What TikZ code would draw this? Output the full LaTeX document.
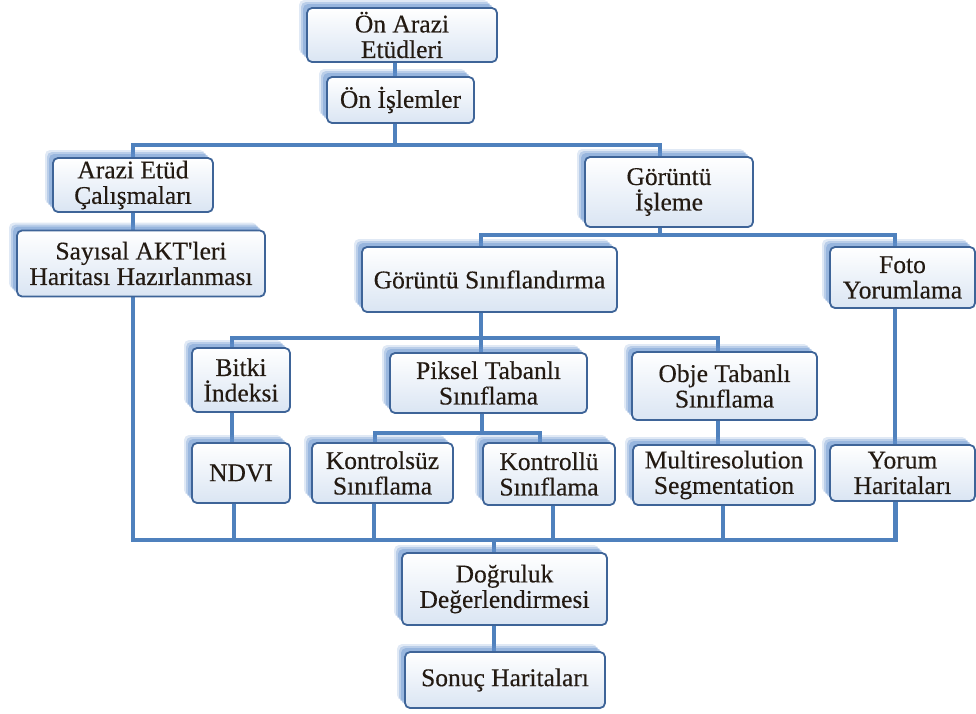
\documentclass[tikz,border=0pt]{standalone}
\usepackage{fontspec}
\setmainfont{Liberation Serif}[Ligatures=TeXOff]
\newfontfamily\boxfont{Liberation Serif}[Ligatures=TeXOff, FakeBold=0.35]
\usetikzlibrary{shadows}
\definecolor{linec}{RGB}{79,129,189}
\definecolor{edgec}{RGB}{62,100,152}
\definecolor{fillb}{RGB}{218,229,243}
\definecolor{shad}{RGB}{100,145,205}
\definecolor{txt}{RGB}{35,26,18}
\pgfdeclarelayer{bg}
\pgfsetlayers{bg,main}
\begin{document}
\begin{tikzpicture}[x=1pt,y=-1pt,
  box/.style={draw=edgec, line width=1.8pt, rounded corners=5pt,
    top color=white, bottom color=fillb, align=center, inner sep=0pt,
    text=txt, font=\boxfont\fontsize{25.5}{25.5}\selectfont,
    general shadow={fill=shad, opacity=0.2, shadow xshift=-8pt, shadow yshift=8pt},
    general shadow={fill=shad, opacity=0.3, shadow xshift=-6pt, shadow yshift=6pt},
    general shadow={fill=shad, opacity=0.4, shadow xshift=-4pt, shadow yshift=4pt}},
  conn/.style={draw=linec, line width=4.5pt}]
\useasboundingbox (0,0) rectangle (976,713);

\node[box, minimum width=190pt, minimum height=54pt] (onarazi) at (402,35) {Ön Arazi\\Etüdleri};
\node[box, minimum width=147pt, minimum height=46pt] (onislem) at (400.5,100) {Ön İşlemler};
\node[box, minimum width=160pt, minimum height=54pt] (arazi) at (133,185) {Arazi Etüd\\Çalışmaları};
\node[box, minimum width=248pt, minimum height=66pt] (sayisal) at (141,263.5) {Sayısal AKT'leri\\Haritası Hazırlanması};
\node[box, minimum width=168pt, minimum height=70pt] (gisleme) at (669,192) {Görüntü\\İşleme};
\node[box, minimum width=255pt, minimum height=65pt] (gsinif) at (489.5,279.5) {Görüntü Sınıflandırma};
\node[box, minimum width=145pt, minimum height=61pt] (foto) at (902.5,277.5) {Foto\\Yorumlama};
\node[box, minimum width=98pt, minimum height=64pt] (bitki) at (241,380) {Bitki\\İndeksi};
\node[box, minimum width=197pt, minimum height=60pt] (piksel) at (488.5,383) {Piksel Tabanlı\\Sınıflama};
\node[box, minimum width=185pt, minimum height=68pt] (obje) at (724.5,386) {Obje Tabanlı\\Sınıflama};
\node[box, minimum width=98pt, minimum height=60pt] (ndvi) at (241,473) {NDVI};
\node[box, minimum width=141pt, minimum height=60pt] (kontrolsuz) at (382.5,473) {Kontrolsüz\\Sınıflama};
\node[box, minimum width=132pt, minimum height=62pt] (kontrollu) at (549,474) {Kontrollü\\Sınıflama};
\node[box, minimum width=182pt, minimum height=60pt] (multi) at (724,475) {Multiresolution\\Segmentation};
\node[box, minimum width=145pt, minimum height=56pt] (yorum) at (902.5,473) {Yorum\\Haritaları};
\node[box, minimum width=205pt, minimum height=72pt] (dogruluk) at (504.5,589) {Doğruluk\\Değerlendirmesi};
\node[box, minimum width=200pt, minimum height=56pt] (sonuc) at (505,680) {Sonuç Haritaları};

\coordinate (b1) at (395,145);
\coordinate (b2) at (660,235);
\coordinate (b3) at (481,338);
\coordinate (b4) at (482,433);
\coordinate (b5) at (494,540);

\begin{pgfonlayer}{bg}
\draw[conn] ([xshift=-7pt]onarazi.south) -- ([xshift=-7pt]onarazi.south |- onislem.north);
\draw[conn] ([xshift=-5.5pt]onislem.south) -- ([xshift=-5.5pt]onislem.south |- b1);
\draw[conn] (arazi.north) |- (b1) -| ([xshift=-9pt]gisleme.north);
\draw[conn] (arazi.south) -- (arazi.south |- sayisal.north);
\draw[conn] ([xshift=-9pt]gisleme.south) -- ([xshift=-9pt]gisleme.south |- b2);
\draw[conn] ([xshift=-8.5pt]gsinif.north) |- (b2) -| ([xshift=-7.5pt]foto.north);
\draw[conn] ([xshift=-8.5pt]gsinif.south) -- ([xshift=-8.5pt]gsinif.south |- piksel.north);
\draw[conn] ([xshift=-9pt]bitki.north) |- (b3) -| ([xshift=-6.5pt]obje.north);
\draw[conn] ([xshift=-9pt]bitki.south) -- ([xshift=-9pt]bitki.south |- ndvi.north);
\draw[conn] ([xshift=-6.5pt]piksel.south) -- ([xshift=-6.5pt]piksel.south |- b4);
\draw[conn] ([xshift=-7.5pt]kontrolsuz.north) |- (b4) -| ([xshift=-9pt]kontrollu.north);
\draw[conn] ([xshift=-6.5pt]obje.south) -- ([xshift=-6.5pt]obje.south |- multi.north);
\draw[conn] ([xshift=-7.5pt]foto.south) -- ([xshift=-7.5pt]foto.south |- yorum.north);
\draw[conn] ([xshift=-8pt]sayisal.south) |- (b5) -| ([xshift=-7pt]yorum.south);
\draw[conn] ([xshift=-7pt]ndvi.south) -- ([xshift=-7pt]ndvi.south |- b5);
\draw[conn] ([xshift=-8.5pt]kontrolsuz.south) -- ([xshift=-8.5pt]kontrolsuz.south |- b5);
\draw[conn] ([xshift=4pt]kontrollu.south) -- ([xshift=4pt]kontrollu.south |- b5);
\draw[conn] ([xshift=-1pt]multi.south) -- ([xshift=-1pt]multi.south |- b5);
\draw[conn] ([xshift=-10.5pt]dogruluk.north) -- ([xshift=-10.5pt]dogruluk.north |- b5);
\draw[conn] ([xshift=-10.5pt]dogruluk.south) -- ([xshift=-10.5pt]dogruluk.south |- sonuc.north);
\end{pgfonlayer}
\end{tikzpicture}
\end{document}
